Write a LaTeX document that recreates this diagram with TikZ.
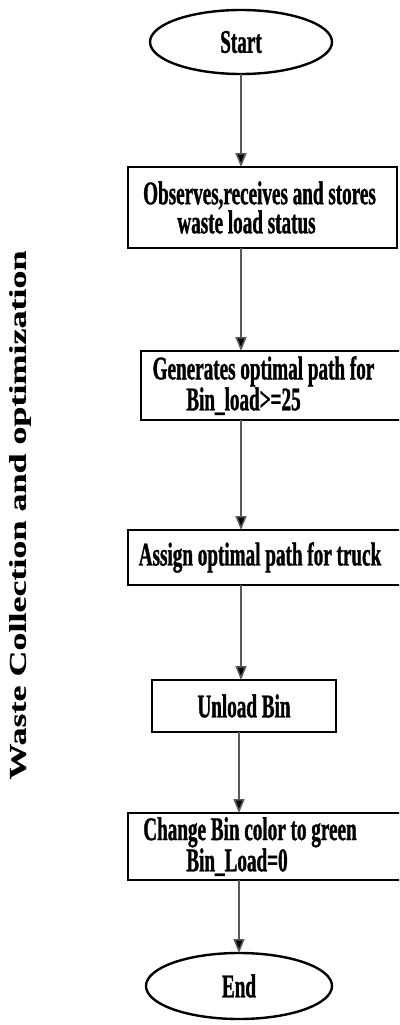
\documentclass[tikz,border=0pt]{standalone}
\usepackage{fontspec}
\usetikzlibrary{arrows.meta,shapes.geometric,calc}
\newfontfamily\boxfont[FakeStretch=0.58,FakeBold=1]{Liberation Serif}
\newfontfamily\sidefont[FakeStretch=1.5,FakeBold=0.6]{Liberation Serif}
\begin{document}
\begin{tikzpicture}[x=1pt,y=-1pt,
  every node/.style={inner sep=0pt,outer sep=0pt},
  term/.style={ellipse,draw=black,line width=2.4pt,font=\boxfont\bfseries\fontsize{33}{28}\selectfont},
  procbox/.style={rectangle,draw=black,line width=2.6pt,align=center,font=\boxfont\bfseries\fontsize{33}{28}\selectfont},
  arr/.style={draw=black!65,line width=1.6pt,-{Triangle[length=14pt,width=11pt,fill=black]}},
  sidelabel/.style={font=\sidefont\bfseries\fontsize{24}{26}\selectfont,rotate=90}
]
\useasboundingbox (0,0) rectangle (399,1025);
\clip (0,0) rectangle (399,1025);
\node[term,minimum width=182pt,minimum height=64pt] (start) at (241,42) {Start};
\node[procbox,minimum width=269pt,minimum height=81pt] (b1) at (262.5,207.5) {Observes,receives and stores\hspace*{6pt}\\waste load status\hspace*{32pt}};
\node[procbox,minimum width=261pt,minimum height=69pt] (b2) at (271.5,385.5) {Generates optimal path for\hspace*{16pt}\\Bin\_load>=25\hspace*{56pt}};
\node[procbox,minimum width=274pt,minimum height=55pt] (b3) at (265,557.5) {Assign optimal path for truck\hspace*{10pt}};
\node[procbox,minimum width=184pt,minimum height=52pt] (b4) at (244,706) {Unload Bin};
\node[procbox,minimum width=274pt,minimum height=67pt] (b5) at (265,846.5) {Change Bin color to green\hspace*{30pt}\\Bin\_Load=0\hspace*{56pt}};
\node[term,minimum width=186pt,minimum height=66pt] (end) at (239,986) {End};
\node[sidelabel] (side) at (20,515) {Waste Collection and optimization};
\draw[arr] (start.south) -- (start.south |- b1.north);
\draw[arr] (b1.south -| start) -- (b2.north -| start);
\draw[arr] (b2.south -| start) -- (b3.north -| start);
\draw[arr] (b3.south -| start) -- (b4.north -| start);
\draw[arr] (b4.south -| end) -- (b5.north -| end);
\draw[arr] (b5.south -| end) -- (end.north);
\end{tikzpicture}
\end{document}
